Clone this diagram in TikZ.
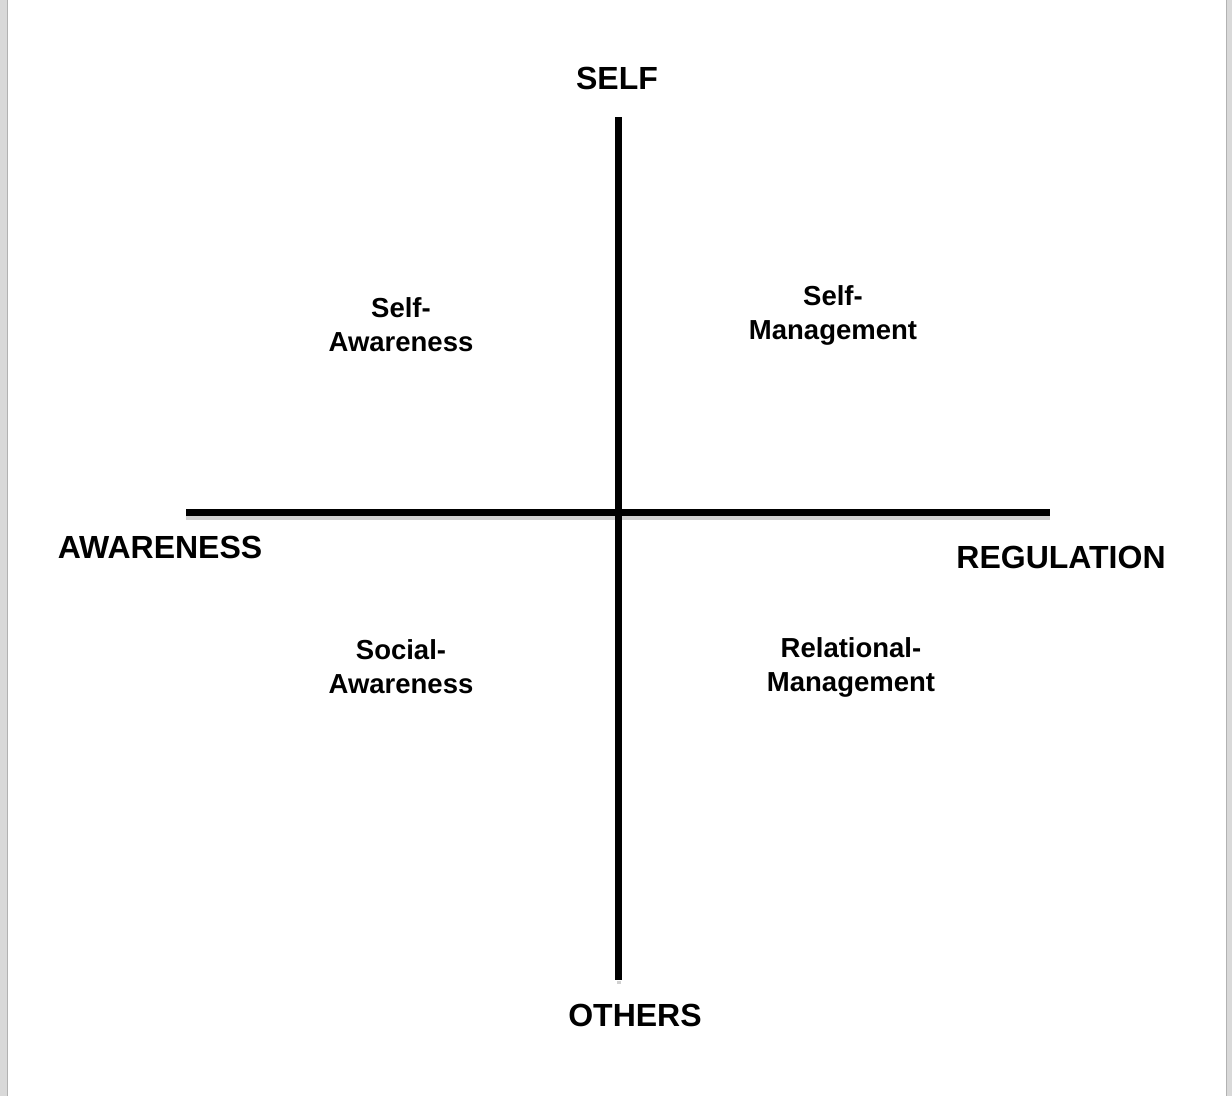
\documentclass[tikz,border=0pt]{standalone}
\usepackage{fontspec}
\setmainfont{Liberation Sans}
\begin{document}
\begin{tikzpicture}[x=1pt,y=-1pt,
  big/.style={font=\fontsize{32}{36}\selectfont\bfseries},
  quad/.style={font=\fontsize{27.5}{34}\selectfont\bfseries, align=center},
  axis/.style={line width=7pt},
  shade/.style={line width=4pt, draw=black!18}]
\useasboundingbox (0,0) rectangle (1232,1096);
\fill[black!15] (0,0) rectangle (7,1096);
\fill[black!15] (1226,0) rectangle (1232,1096);
\draw[black!30] (7,0) -- (7,1096) (1226,0) -- (1226,1096);
\coordinate (hl) at (186,512.5);
\coordinate (hr) at (1050,512.5);
\coordinate (vt) at (618.5,117);
\coordinate (vb) at (618.5,980);
\draw[shade] ([yshift=-5.5pt]hl) -- ([yshift=-5.5pt]hr);
\draw[shade] ([yshift=-1pt]vb) -- ([yshift=-4pt]vb);
\draw[axis] (hl) -- (hr);
\draw[axis] (vt) -- (vb);
\node[big] (self) at (617,78) {SELF};
\node[big] (others) at (635,1015) {OTHERS};
\node[big] (aw) at (160,547) {AWARENESS};
\node[big] (reg) at (1061,557) {REGULATION};
\node[quad] (sa) at (401,325) {Self-\\Awareness};
\node[quad] (sm) at (833,315) {Self-\\Management};
\node[quad] (soc) at (401,667) {Social-\\Awareness};
\node[quad] (rm) at (851,667) {Relational-\\Management};
\end{tikzpicture}
\end{document}
